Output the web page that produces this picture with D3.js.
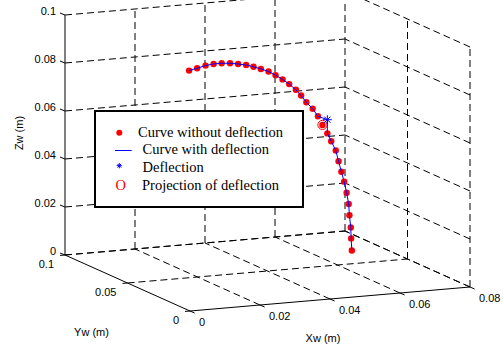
<!DOCTYPE html>
<html>
<head>
  <script src="https://d3js.org/d3.v7.min.js"></script>
  <style>
    body { margin: 0; background: #fff; }
    .tick-label { font-family: "Liberation Sans", Arial, sans-serif; font-size: 11px; fill: #000; }
    .legend-text { font-family: "Liberation Serif", "Times New Roman", serif; font-size: 14.5px; fill: #000; }
  </style>
</head>
<body>
  <div id="chart"></div>
  <script>
    // axis ticks
    const xTicks = [0, 0.02, 0.04, 0.06, 0.08];
    const yTicks = [0, 0.05, 0.1];
    const zTicks = [0, 0.02, 0.04, 0.06, 0.08, 0.1];

    // curve without deflection (y held at 0.05)
    const curveX = [0.0176, 0.0199, 0.0223, 0.0246, 0.0269, 0.0293, 0.0316, 0.0339, 0.0360, 0.0381,
                    0.0403, 0.0423, 0.0443, 0.0462, 0.0481, 0.0496, 0.0511, 0.0529, 0.0544, 0.0557,
                    0.0571, 0.0582, 0.0595, 0.0603, 0.0611, 0.0619, 0.0626, 0.0632, 0.0634, 0.0638,
                    0.0639, 0.0641];
    const curveY = curveX.map(() => 0.05);
    const curveZ = [0.0863, 0.0870, 0.0878, 0.0882, 0.0882, 0.0879, 0.0873, 0.0866, 0.0856, 0.0844,
                    0.0831, 0.0813, 0.0793, 0.0771, 0.0745, 0.0719, 0.0689, 0.0660, 0.0627, 0.0589,
                    0.0552, 0.0518, 0.0478, 0.0432, 0.0387, 0.0345, 0.0298, 0.0250, 0.0203, 0.0152,
                    0.0106, 0.0055];

    // deflection point, replaces this index in the deflected curve
    const deflectIndex = 19;
    const deflection = [0.0571, 0.05, 0.0609];

    const legendLabels = ["Curve without deflection", "Curve with deflection", "Deflection", "Projection of deflection"];

    const W = 504, H = 347;
    const svg = d3.select("#chart").append("svg")
      .attr("width", W).attr("height", H);

    // axis scales -> fraction of each box edge
    const xs = d3.scaleLinear().domain([0, 0.08]).range([0, 1]);
    const ys = d3.scaleLinear().domain([0, 0.1]).range([0, 1]);
    const zs = d3.scaleLinear().domain([0, 0.1]).range([0, 1]);
    const origin = [190, 311];
    const xVec = [280, -24], yVec = [-125, -56], zVec = [0, -240];

    function project(p) {
      const a = xs(p[0]), b = ys(p[1]), c = zs(p[2]);
      return [origin[0] + a * xVec[0] + b * yVec[0] + c * zVec[0],
              origin[1] + a * xVec[1] + b * yVec[1] + c * zVec[1]];
    }

    const grid = svg.append("g")
      .attr("stroke", "#000").attr("stroke-width", 1)
      .attr("stroke-dasharray", "7,4").attr("fill", "none");

    function seg(g, p, q) {
      const a = project(p), b = project(q);
      g.append("line").attr("x1", a[0]).attr("y1", a[1]).attr("x2", b[0]).attr("y2", b[1]);
    }

    const xMax = 0.08, yMax = 0.1, zMax = 0.1;
    // back wall y = yMax
    xTicks.forEach(x => { if (x > 0) seg(grid, [x, yMax, 0], [x, yMax, zMax]); });
    zTicks.forEach(z => seg(grid, [0, yMax, z], [xMax, yMax, z]));
    // side wall x = xMax
    yTicks.forEach(y => { if (y < yMax) seg(grid, [xMax, y, 0], [xMax, y, zMax]); });
    zTicks.forEach(z => seg(grid, [xMax, 0, z], [xMax, yMax, z]));
    // floor z = 0
    xTicks.forEach(x => { if (x > 0) seg(grid, [x, 0, 0], [x, yMax, 0]); });
    yTicks.forEach(y => { if (y > 0) seg(grid, [0, y, 0], [xMax, y, 0]); });

    // solid axes
    const axes = svg.append("g").attr("stroke", "#000").attr("stroke-width", 1);
    seg(axes, [0, 0, 0], [xMax, 0, 0]);
    seg(axes, [0, 0, 0], [0, yMax, 0]);
    seg(axes, [0, yMax, 0], [0, yMax, zMax]);

    // tick marks + labels
    const fmt = d => d === 0 ? "0" : String(d);
    zTicks.forEach(z => {
      const p = project([0, yMax, z]);
      axes.append("line").attr("x1", p[0]).attr("y1", p[1]).attr("x2", p[0] - 5).attr("y2", p[1] - 2);
      svg.append("text").attr("class", "tick-label")
        .attr("x", p[0] - 9).attr("y", p[1] - 4).attr("dy", "0.35em")
        .attr("text-anchor", "end").text(fmt(z));
    });
    yTicks.forEach(y => {
      const p = project([0, y, 0]);
      axes.append("line").attr("x1", p[0]).attr("y1", p[1]).attr("x2", p[0] - 5).attr("y2", p[1] + 0.4);
      svg.append("text").attr("class", "tick-label")
        .attr("x", p[0] - 11).attr("y", p[1] + 9).attr("dy", "0.35em")
        .attr("text-anchor", "end").text(fmt(y));
    });
    xTicks.forEach(x => {
      const p = project([x, 0, 0]);
      axes.append("line").attr("x1", p[0]).attr("y1", p[1]).attr("x2", p[0] + 4.6).attr("y2", p[1] + 2);
      svg.append("text").attr("class", "tick-label")
        .attr("x", p[0] + 9).attr("y", p[1] + 11).attr("dy", "0.35em")
        .attr("text-anchor", "start").text(fmt(x));
    });

    // axis labels
    const zMid = project([0, yMax, zMax / 2]);
    svg.append("text").attr("class", "tick-label")
      .attr("transform", `translate(${zMid[0] - 42},${zMid[1] - 2}) rotate(-90)`)
      .attr("text-anchor", "middle").text("Zw (m)");
    const yMid = project([0, yMax / 2, 0]);
    svg.append("text").attr("class", "tick-label")
      .attr("x", yMid[0] - 36).attr("y", yMid[1] + 49).attr("dy", "0.35em")
      .attr("text-anchor", "middle").text("Yw (m)");
    const xMid = project([xMax / 2, 0, 0]);
    svg.append("text").attr("class", "tick-label")
      .attr("x", xMid[0] - 7).attr("y", xMid[1] + 39).attr("dy", "0.35em")
      .attr("text-anchor", "middle").text("Xw (m)");

    // data
    const pts = curveX.map((x, i) => [x, curveY[i], curveZ[i]]);
    const deflected = pts.map((p, i) => i === deflectIndex ? deflection : p);

    svg.append("g").selectAll("circle")
      .data(pts).enter().append("circle")
      .attr("cx", d => project(d)[0]).attr("cy", d => project(d)[1])
      .attr("r", 3.2).attr("fill", "#ff0000");

    const proj = project(pts[deflectIndex]);
    svg.append("circle").attr("cx", proj[0]).attr("cy", proj[1])
      .attr("r", 4.6).attr("fill", "none").attr("stroke", "#ff0000").attr("stroke-width", 1);

    const line = d3.line().x(d => project(d)[0]).y(d => project(d)[1]);
    svg.append("path").datum(deflected)
      .attr("d", line).attr("fill", "none").attr("stroke", "#0000ff").attr("stroke-width", 1);

    function asterisk(cx, cy, r, w) {
      const g = svg.append("g").attr("stroke", "#0000ff").attr("stroke-width", w);
      g.append("line").attr("x1", cx - r).attr("y1", cy).attr("x2", cx + r).attr("y2", cy);
      g.append("line").attr("x1", cx).attr("y1", cy - r).attr("x2", cx).attr("y2", cy + r);
      const q = r * 0.7;
      g.append("line").attr("x1", cx - q).attr("y1", cy - q).attr("x2", cx + q).attr("y2", cy + q);
      g.append("line").attr("x1", cx - q).attr("y1", cy + q).attr("x2", cx + q).attr("y2", cy - q);
    }
    const dp = project(deflection);
    asterisk(dp[0], dp[1], 4.5, 1);

    // legend
    const lg = svg.append("g");
    lg.append("rect").attr("x", 95).attr("y", 111).attr("width", 208).attr("height", 96)
      .attr("fill", "#fff").attr("stroke", "#000").attr("stroke-width", 2);
    const textX = [138, 142.5, 142.5, 142];
    const textY = [137, 154, 171.5, 190];
    legendLabels.forEach((t, i) => {
      lg.append("text").attr("class", "legend-text")
        .attr("x", textX[i]).attr("y", textY[i]).text(t);
    });
    lg.append("circle").attr("cx", 119.3).attr("cy", 132.7).attr("r", 3).attr("fill", "#ff0000");
    lg.append("line").attr("x1", 115).attr("x2", 131.7).attr("y1", 150.5).attr("y2", 150.5)
      .attr("stroke", "#0000ff").attr("stroke-width", 1);
    asterisk(119.3, 165.7, 2.6, 1);
    lg.append("text").attr("class", "legend-text")
      .attr("x", 120.7).attr("y", 190).attr("text-anchor", "middle")
      .attr("fill", "#ff0000").style("fill", "#ff0000").text("O");
  </script>
</body>
</html>
